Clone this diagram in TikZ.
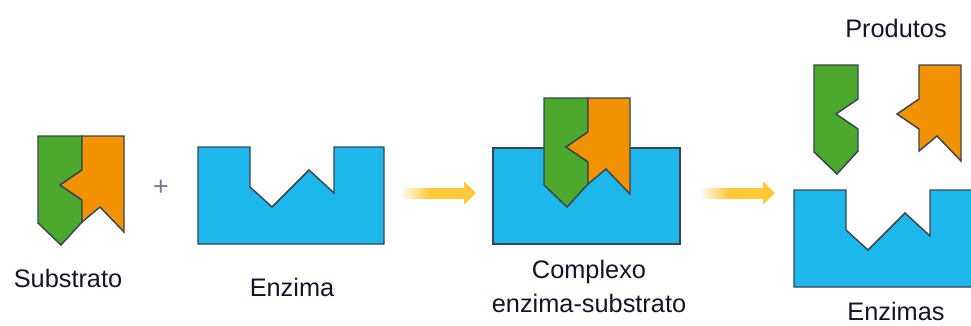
\documentclass[tikz,border=0pt]{standalone}
\usepackage{fontspec}
\setmainfont{Liberation Sans}
\usetikzlibrary{arrows.meta,calc,fadings}

\definecolor{enzblue}{RGB}{29,183,235}
\definecolor{subgreen}{RGB}{77,168,46}
\definecolor{suborange}{RGB}{243,146,0}
\definecolor{edgegray}{RGB}{55,70,80}
\definecolor{arrowyellow}{RGB}{255,200,55}
\definecolor{txtcol}{RGB}{20,20,40}

\tikzset{
  piece/.style={draw=edgegray, line width=1.1pt, line join=miter},
  enzyme/.style={piece, fill=enzblue},
  greenpart/.style={piece, fill=subgreen},
  orangepart/.style={piece, fill=suborange},
  txt/.style={anchor=base, inner sep=0.75pt, text=txtcol, font=\fontsize{19}{25.5}\selectfont},
  stagearrow/.style={draw=arrowyellow, line width=8.25pt, -{Triangle[length=9pt,width=17pt]}},
}

\begin{document}
\begin{tikzpicture}[x=0.75pt,y=0.75pt,yscale=-1,xscale=1]
\useasboundingbox (0,0) rectangle (971,325);
\clip (0,0) rectangle (971,325);

%Shape: substrate, green half
\draw [greenpart] (38,136) -- (82,136) -- (82,170) -- (60,185) -- (82,200) -- (82,222) -- (61,245) -- (38,223) -- cycle ;
%Shape: substrate, orange half
\draw [orangepart] (82,136) -- (124,136) -- (124,232) -- (100,207) -- (82,222) -- (82,200) -- (60,185) -- (82,170) -- cycle ;

% plus sign
\node (plus) at (161,188) [text={rgb,255:red,120;green,120;blue,140}, font=\fontsize{20}{20}\selectfont] {+};

%Shape: free enzyme
\draw [enzyme] (198,147) -- (250,147) -- (250,187) -- (272,207) -- (309,170) -- (334,193) -- (334,147) -- (384,147) -- (384,244) -- (198,244) -- cycle ;

%Shape: complex, enzyme body
\draw [enzyme] (493,148) rectangle (680,244) ;
%Shape: complex, bound substrate
\draw [greenpart] (544,98) -- (588,98) -- (588,132) -- (566,147) -- (588,162) -- (588,184) -- (567,207) -- (544,185) -- cycle ;
\draw [orangepart] (588,98) -- (630,98) -- (630,194) -- (606,169) -- (588,184) -- (588,162) -- (566,147) -- (588,132) -- cycle ;

%Shape: products
\draw [greenpart] (814,65) -- (858,65) -- (858,99) -- (836,114) -- (858,129) -- (858,151) -- (837,174) -- (814,152) -- cycle ;
\draw [orangepart] (919,65) -- (961,65) -- (961,161) -- (937,136) -- (919,151) -- (919,129) -- (897,114) -- (919,99) -- cycle ;

%Shape: released enzyme
\draw [enzyme] (794,190) -- (846,190) -- (846,230) -- (868,250) -- (905,213) -- (930,236) -- (930,190) -- (980,190) -- (980,287) -- (794,287) -- cycle ;

% reaction arrows, tails faded out
\coordinate (a1) at (403,193);
\coordinate (b1) at (476,193);
\coordinate (a2) at (702,193);
\coordinate (b2) at (775,193);
\draw [stagearrow] (a1) -- (b1);
\draw [stagearrow] (a2) -- (b2);
\fill [white, path fading=east] ($(a1)+(-3,-10)$) rectangle ($(a1)+(27,10)$);
\fill [white, path fading=east] ($(a2)+(-3,-10)$) rectangle ($(a2)+(27,10)$);

% Text Node
\node (substrato) at (68,287) [txt] {Substrato};
% Text Node
\node (enzima) at (292,296) [txt] {Enzima};
% Text Node (base sits on the second line)
\node (complexo) at (589,312) [txt, align=center] {Complexo\\enzima-substrato};
% Text Node
\node (produtos) at (896,37) [txt] {Produtos};
% Text Node
\node (enzimas) at (896,320) [txt] {Enzimas};

\end{tikzpicture}
\end{document}
